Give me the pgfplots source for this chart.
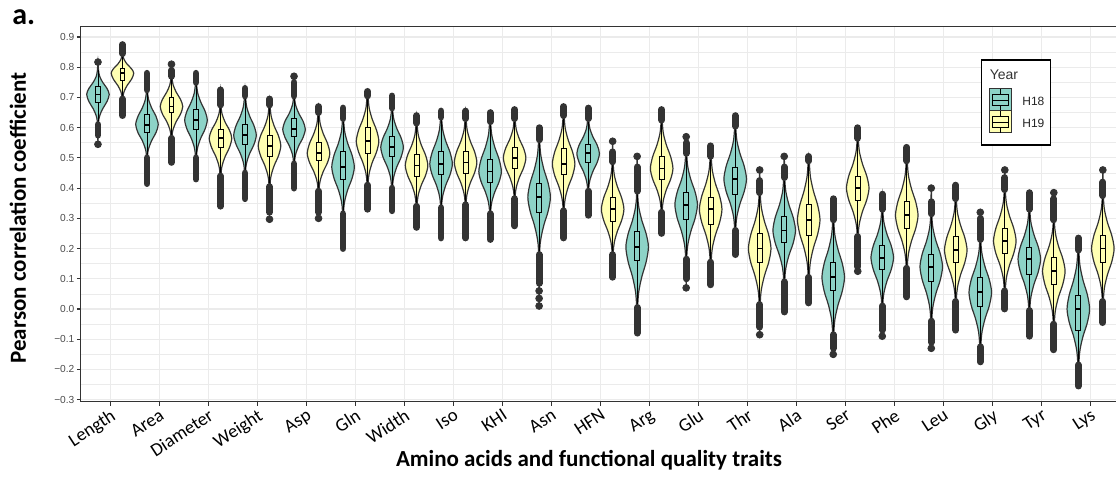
\documentclass[border=0pt]{standalone}
\usepackage{fontspec}
\setmainfont{Carlito}
\newfontfamily\arial{Liberation Sans}
\usepackage{pgfplots}
\pgfplotsset{compat=1.18}

\definecolor{vteal}{HTML}{8DD3C7}
\definecolor{vyell}{HTML}{FFFFB3}
\definecolor{vline}{HTML}{333333}
\definecolor{gridc}{HTML}{EBEBEB}
\definecolor{tickc}{HTML}{4D4D4D}

\pgfplotsset{
  violin/.style={draw=vline, line width=0.6pt, smooth, tension=0.5, mark=none},
  boxl/.style={draw=black, line width=0.45pt, mark=none},
  outl/.style={draw=vline, line width=3.4pt, line cap=round, mark=none},
}

% x, colour, lo, wl, q1, med, q3, wh, hi
\newcommand\violin[9]{%
  \pgfmathsetmacro\vyA{#6-0.75*(#6-#4)}%
  \pgfmathsetmacro\vyB{#6-0.50*(#6-#4)}%
  \pgfmathsetmacro\vyC{#6-0.25*(#6-#4)}%
  \pgfmathsetmacro\vyD{#6+0.25*(#8-#6)}%
  \pgfmathsetmacro\vyE{#6+0.50*(#8-#6)}%
  \pgfmathsetmacro\vyF{#6+0.75*(#8-#6)}%
  \pgfmathsetmacro\vla{#1-0.023}\pgfmathsetmacro\vra{#1+0.023}%
  \pgfmathsetmacro\vlb{#1-0.069}\pgfmathsetmacro\vrb{#1+0.069}%
  \pgfmathsetmacro\vlc{#1-0.193}\pgfmathsetmacro\vrc{#1+0.193}%
  \pgfmathsetmacro\vld{#1-0.368}\pgfmathsetmacro\vrd{#1+0.368}%
  \pgfmathsetmacro\vle{#1-0.46}\pgfmathsetmacro\vre{#1+0.46}%
  \pgfmathsetmacro\vbl{#1-0.1}\pgfmathsetmacro\vbr{#1+0.1}%
  \edef\vtmp{%
    \noexpand\addplot[violin, fill=#2] coordinates {(#1,#3) (\vla,#4) (\vlb,\vyA) (\vlc,\vyB) (\vld,\vyC) (\vle,#6) (\vld,\vyD) (\vlc,\vyE) (\vlb,\vyF) (\vla,#8) (#1,#9) (\vra,#8) (\vrb,\vyF) (\vrc,\vyE) (\vrd,\vyD) (\vre,#6) (\vrd,\vyC) (\vrc,\vyB) (\vrb,\vyA) (\vra,#4) (#1,#3)} -- cycle;
    \noexpand\addplot[boxl] coordinates {(#1,#4) (#1,#5)};
    \noexpand\addplot[boxl] coordinates {(#1,#7) (#1,#8)};
    \noexpand\addplot[boxl] coordinates {(\vbl,#5) (\vbr,#5) (\vbr,#7) (\vbl,#7)} -- cycle;
    \noexpand\addplot[boxl, line width=0.9pt] coordinates {(\vbl,#6) (\vbr,#6)};
  }%
  \vtmp
}
% outlier cluster from y1 to y2
\newcommand\outl[3]{\addplot[outl] coordinates {(#1,#2) (#1,#3)};}
\newcommand\onedot[2]{\addplot[only marks, mark=*, mark size=1.7pt, color=vline] coordinates {(#1,#2)};}

\begin{document}
\begin{tikzpicture}
\begin{axis}[
  at={(0,0)}, anchor=south west,
  scale only axis, width=519.6pt, height=187.4pt,
  xmin=-0.7, xmax=41.7, ymin=-0.306, ymax=0.934,
  xtick={0.5,2.5,...,40.5},
  xticklabels={Length,Area,Diameter,Weight,Asp,Gln,Width,Iso,KHI,Asn,HFN,Arg,Glu,Thr,Ala,Ser,Phe,Leu,Gly,Tyr,Lys},
  ytick={-0.3,-0.2,-0.1,0,0.1,0.2,0.3,0.4,0.5,0.6,0.7,0.8,0.9},
  yticklabels={−0.3,−0.2,−0.1,0.0,0.1,0.2,0.3,0.4,0.5,0.6,0.7,0.8,0.9},
  minor ytick={-0.25,-0.15,-0.05,0.05,0.15,0.25,0.35,0.45,0.55,0.65,0.75,0.85},
  xmajorgrids, ymajorgrids, yminorgrids,
  major grid style={line width=0.6pt, color=gridc},
  minor grid style={line width=0.3pt, color=gridc},
  tick pos=left, tick align=outside,
  major tick length=2pt, minor tick length=0pt,
  tick style={color=vline, line width=0.55pt},
  axis line style={color=vline, line width=0.7pt},
  xticklabel style={font=\fontsize{9.3}{10}\selectfont, color=black, rotate=33, anchor=north east, inner sep=0.8pt},
  yticklabel style={font=\arial\fontsize{5.1}{6}\selectfont, color=tickc, inner sep=1pt},
]
% Length
\violin{0}{vteal}{0.54}{0.615}{0.685}{0.71}{0.735}{0.79}{0.82}
\outl{0}{0.575}{0.61}\onedot{0}{0.545}\onedot{0}{0.817}
\violin{1}{vyell}{0.64}{0.70}{0.755}{0.78}{0.795}{0.84}{0.875}
\outl{1}{0.64}{0.695}\outl{1}{0.845}{0.875}
% Area
\violin{2}{vteal}{0.415}{0.505}{0.585}{0.61}{0.645}{0.72}{0.78}
\outl{2}{0.415}{0.50}\outl{2}{0.725}{0.78}
\violin{3}{vyell}{0.485}{0.57}{0.65}{0.67}{0.70}{0.765}{0.81}
\outl{3}{0.485}{0.565}\outl{3}{0.77}{0.79}\onedot{3}{0.81}
% Diameter
\violin{4}{vteal}{0.43}{0.505}{0.595}{0.625}{0.66}{0.745}{0.78}
\outl{4}{0.43}{0.50}\outl{4}{0.75}{0.78}
\violin{5}{vyell}{0.34}{0.445}{0.535}{0.565}{0.595}{0.67}{0.725}
\outl{5}{0.34}{0.44}\outl{5}{0.675}{0.725}
% Weight
\violin{6}{vteal}{0.365}{0.455}{0.545}{0.575}{0.61}{0.70}{0.73}
\outl{6}{0.365}{0.45}\outl{6}{0.705}{0.73}
\violin{7}{vyell}{0.295}{0.41}{0.505}{0.54}{0.575}{0.67}{0.695}
\outl{7}{0.32}{0.405}\onedot{7}{0.297}\outl{7}{0.675}{0.695}
% Asp
\violin{8}{vteal}{0.40}{0.485}{0.57}{0.595}{0.63}{0.70}{0.77}
\outl{8}{0.40}{0.48}\outl{8}{0.705}{0.75}\onedot{8}{0.77}
\violin{9}{vyell}{0.30}{0.395}{0.49}{0.515}{0.55}{0.645}{0.67}
\outl{9}{0.32}{0.39}\onedot{9}{0.30}\outl{9}{0.65}{0.67}
% Gln
\violin{10}{vteal}{0.20}{0.32}{0.43}{0.47}{0.52}{0.625}{0.665}
\outl{10}{0.20}{0.315}\outl{10}{0.63}{0.665}
\violin{11}{vyell}{0.33}{0.415}{0.515}{0.555}{0.60}{0.70}{0.72}
\outl{11}{0.33}{0.41}\outl{11}{0.705}{0.72}
% Width
\violin{12}{vteal}{0.325}{0.405}{0.505}{0.535}{0.57}{0.66}{0.705}
\outl{12}{0.325}{0.40}\outl{12}{0.665}{0.705}
\violin{13}{vyell}{0.27}{0.345}{0.44}{0.475}{0.51}{0.61}{0.64}
\outl{13}{0.27}{0.34}\outl{13}{0.615}{0.64}
% Iso
\violin{14}{vteal}{0.235}{0.34}{0.445}{0.48}{0.52}{0.63}{0.655}
\outl{14}{0.235}{0.335}\outl{14}{0.635}{0.655}
\violin{15}{vyell}{0.235}{0.35}{0.45}{0.485}{0.52}{0.625}{0.655}
\outl{15}{0.235}{0.345}\outl{15}{0.63}{0.655}
% KHI
\violin{16}{vteal}{0.23}{0.32}{0.42}{0.455}{0.495}{0.615}{0.65}
\outl{16}{0.23}{0.315}\outl{16}{0.62}{0.65}
\violin{17}{vyell}{0.275}{0.37}{0.465}{0.50}{0.535}{0.625}{0.66}
\outl{17}{0.275}{0.365}\outl{17}{0.63}{0.66}
% Asn
\violin{18}{vteal}{0.01}{0.185}{0.32}{0.37}{0.415}{0.555}{0.60}
\outl{18}{0.085}{0.18}\onedot{18}{0.06}\onedot{18}{0.035}\onedot{18}{0.01}\outl{18}{0.56}{0.60}
\violin{19}{vyell}{0.235}{0.33}{0.445}{0.48}{0.53}{0.635}{0.67}
\outl{19}{0.235}{0.325}\outl{19}{0.64}{0.67}
% HFN
\violin{20}{vteal}{0.31}{0.395}{0.485}{0.515}{0.545}{0.625}{0.665}
\outl{20}{0.31}{0.39}\outl{20}{0.63}{0.665}
\violin{21}{vyell}{0.105}{0.185}{0.29}{0.33}{0.37}{0.48}{0.56}
\outl{21}{0.105}{0.18}\outl{21}{0.487}{0.52}\onedot{21}{0.555}
% Arg
\violin{22}{vteal}{-0.08}{0.01}{0.16}{0.205}{0.255}{0.38}{0.51}
\outl{22}{-0.08}{0.005}\outl{22}{0.39}{0.47}\onedot{22}{0.505}
\violin{23}{vyell}{0.25}{0.325}{0.43}{0.465}{0.505}{0.62}{0.66}
\outl{23}{0.25}{0.32}\outl{23}{0.625}{0.66}
% Glu
\violin{24}{vteal}{0.07}{0.17}{0.295}{0.345}{0.385}{0.51}{0.57}
\outl{24}{0.10}{0.165}\onedot{24}{0.07}\outl{24}{0.515}{0.55}\onedot{24}{0.57}
\violin{25}{vyell}{0.08}{0.16}{0.28}{0.33}{0.37}{0.50}{0.54}
\outl{25}{0.08}{0.155}\outl{25}{0.505}{0.54}
% Thr
\violin{26}{vteal}{0.18}{0.265}{0.38}{0.43}{0.47}{0.60}{0.64}
\outl{26}{0.18}{0.26}\outl{26}{0.605}{0.64}
\violin{27}{vyell}{-0.085}{0.02}{0.155}{0.20}{0.25}{0.38}{0.46}
\outl{27}{-0.06}{0.015}\onedot{27}{-0.085}\outl{27}{0.385}{0.425}\onedot{27}{0.46}
% Ala
\violin{28}{vteal}{-0.01}{0.095}{0.22}{0.26}{0.305}{0.43}{0.51}
\outl{28}{-0.01}{0.09}\outl{28}{0.435}{0.47}\onedot{28}{0.505}
\violin{29}{vyell}{0.02}{0.11}{0.245}{0.295}{0.345}{0.485}{0.505}
\outl{29}{0.02}{0.105}\outl{29}{0.49}{0.505}
% Ser
\violin{30}{vteal}{-0.15}{-0.08}{0.06}{0.105}{0.155}{0.29}{0.365}
\outl{30}{-0.13}{-0.085}\onedot{30}{-0.15}\outl{30}{0.295}{0.365}
\violin{31}{vyell}{0.125}{0.245}{0.36}{0.40}{0.44}{0.56}{0.60}
\outl{31}{0.14}{0.24}\onedot{31}{0.125}\outl{31}{0.565}{0.60}
% Phe
\violin{32}{vteal}{-0.09}{0.015}{0.13}{0.17}{0.21}{0.325}{0.38}
\outl{32}{-0.07}{0.01}\onedot{32}{-0.09}\outl{32}{0.33}{0.38}
\violin{33}{vyell}{0.04}{0.14}{0.265}{0.31}{0.355}{0.485}{0.535}
\outl{33}{0.04}{0.135}\outl{33}{0.49}{0.535}
% Leu
\violin{34}{vteal}{-0.13}{-0.035}{0.09}{0.14}{0.18}{0.31}{0.40}
\outl{34}{-0.11}{-0.04}\onedot{34}{-0.13}\outl{34}{0.315}{0.355}\onedot{34}{0.40}
\violin{35}{vyell}{-0.07}{0.03}{0.155}{0.195}{0.24}{0.36}{0.41}
\outl{35}{-0.07}{0.025}\outl{35}{0.365}{0.41}
% Gly
\violin{36}{vteal}{-0.175}{-0.12}{0.01}{0.055}{0.105}{0.225}{0.32}
\outl{36}{-0.175}{-0.125}\outl{36}{0.23}{0.30}\onedot{36}{0.32}
\violin{37}{vyell}{0.0}{0.065}{0.185}{0.225}{0.265}{0.39}{0.46}
\outl{37}{0.0}{0.06}\outl{37}{0.395}{0.435}\onedot{37}{0.46}
% Tyr
\violin{38}{vteal}{-0.09}{0.0}{0.115}{0.165}{0.205}{0.325}{0.385}
\outl{38}{-0.09}{-0.005}\outl{38}{0.33}{0.385}
\violin{39}{vyell}{-0.135}{-0.045}{0.08}{0.125}{0.17}{0.29}{0.385}
\outl{39}{-0.135}{-0.05}\outl{39}{0.295}{0.365}\onedot{39}{0.385}
% Lys
\violin{40}{vteal}{-0.255}{-0.18}{-0.07}{0.0}{0.045}{0.19}{0.235}
\outl{40}{-0.255}{-0.185}\outl{40}{0.195}{0.235}
\violin{41}{vyell}{-0.045}{0.03}{0.155}{0.20}{0.245}{0.37}{0.46}
\outl{41}{-0.045}{0.025}\outl{41}{0.375}{0.42}\onedot{41}{0.46}
\end{axis}

% legend
\draw[line width=0.75pt, fill=white] (450.45pt,128.25pt) rectangle (484.95pt,170.75pt);
\node[anchor=west, inner sep=0pt, font=\arial\fontsize{7}{8}\selectfont, text=vline] at (454.3pt,163.25pt) {Year};
\foreach \c/\yb in {vteal/145.25, vyell/134.25}{
  \draw[fill=\c, draw=vline, line width=0.5pt] (454.1pt,\yb pt) rectangle (465.1pt,\yb pt+11pt);
  \draw[draw=black, line width=0.4pt] (455.6pt,\yb pt+2.75pt) rectangle (463.6pt,\yb pt+8.25pt);
  \draw[black, line width=0.4pt] (455.6pt,\yb pt+5.5pt) -- (463.6pt,\yb pt+5.5pt);
  \draw[black, line width=0.4pt] (459.6pt,\yb pt) -- (459.6pt,\yb pt+2.75pt);
  \draw[black, line width=0.4pt] (459.6pt,\yb pt+8.25pt) -- (459.6pt,\yb pt+11pt);
}
\node[anchor=west, inner sep=0pt, font=\arial\fontsize{6}{7}\selectfont, text=black!85] at (470.6pt,150.25pt) {H18};
\node[anchor=west, inner sep=0pt, font=\arial\fontsize{6}{7}\selectfont, text=black!85] at (470.6pt,139.25pt) {H19};

% titles
\node[anchor=base, inner sep=0pt, font=\bfseries\fontsize{11.5}{13}\selectfont] at (254.1pt,-32.75pt) {Amino acids and functional quality traits};
\node[anchor=base, rotate=90, inner sep=0pt, font=\bfseries\fontsize{11.5}{13}\selectfont] at (-27.4pt,91.75pt) {Pearson correlation coefficient};
\node[anchor=base west, inner sep=0pt, font=\bfseries\fontsize{15}{17}\selectfont] at (-34.4pt,188.25pt) {a.};

\pgfresetboundingbox
\path[use as bounding box] (-40.4pt,-37.75pt) rectangle (517.6pt,200.75pt);
\end{tikzpicture}
\end{document}
